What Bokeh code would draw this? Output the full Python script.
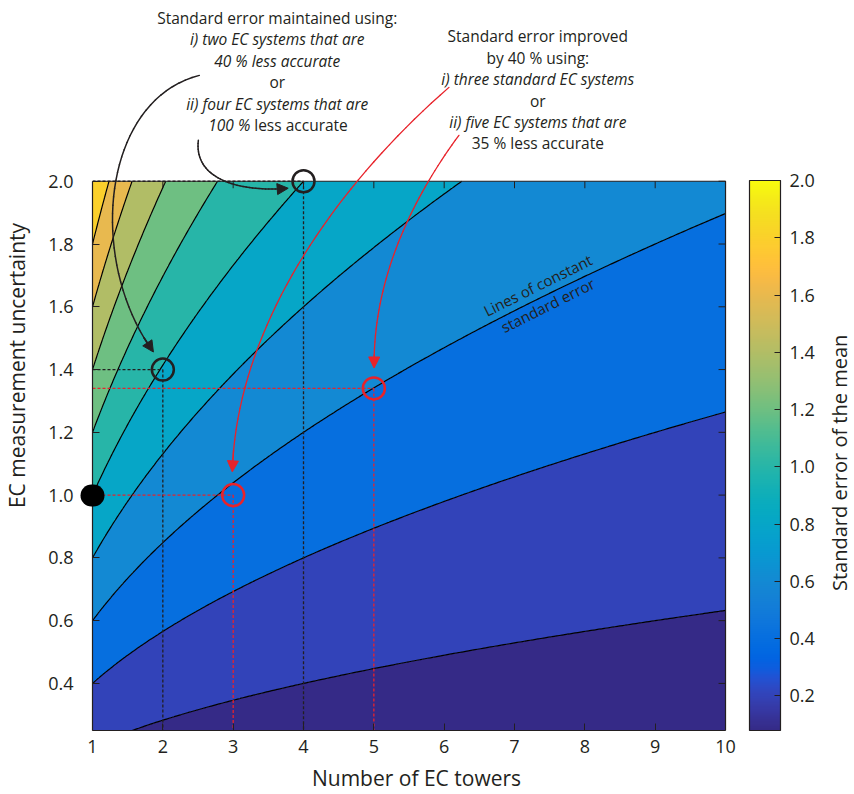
import numpy as np
from bokeh.plotting import figure
from bokeh.layouts import row
from bokeh.models import (ColumnDataSource, FixedTicker, PrintfTickFormatter,
                          ColorBar, LinearColorMapper, Label, Arrow, NormalHead, Range1d)
from bokeh.embed import file_html
from bokeh.resources import INLINE

# ---------------- data ----------------
towers = np.linspace(1, 10, 241)          # number of EC towers (x grid)
uncert = np.linspace(0.25, 2.0, 241)      # EC measurement uncertainty (y grid)
se_levels = [0.2, 0.4, 0.6, 0.8, 1.0, 1.2, 1.4, 1.6, 1.8]
x_ticks = [1, 2, 3, 4, 5, 6, 7, 8, 9, 10]
y_ticks = [0.4, 0.6, 0.8, 1.0, 1.2, 1.4, 1.6, 1.8, 2.0]
cbar_ticks = [0.2, 0.4, 0.6, 0.8, 1.0, 1.2, 1.4, 1.6, 1.8, 2.0]

ref_n, ref_sigma = [1], [1.0]              # reference: one standard EC system
maint_n, maint_sigma = [2, 4], [1.4, 2.0]  # standard error maintained
impr_n, impr_sigma = [3, 5], [1.0, 1.34]   # standard error improved by 40 %

# standard error of the mean = sigma / sqrt(n)
se = uncert[:, None] / np.sqrt(towers[None, :])
zmin, zmax = float(se.min()), float(se.max())
x_lo, x_hi, y_lo, y_hi = 1.0, 10.0, 0.25, 2.0

# ---------------- parula colormap ----------------
parula64 = [
    (0.2081, 0.1663, 0.5292), (0.2116, 0.1898, 0.5777), (0.2123, 0.2138, 0.6270), (0.2081, 0.2386, 0.6771),
    (0.1959, 0.2645, 0.7279), (0.1707, 0.2919, 0.7792), (0.1253, 0.3242, 0.8303), (0.0591, 0.3598, 0.8683),
    (0.0117, 0.3875, 0.8820), (0.0060, 0.4086, 0.8828), (0.0165, 0.4266, 0.8786), (0.0329, 0.4430, 0.8720),
    (0.0498, 0.4586, 0.8641), (0.0629, 0.4737, 0.8554), (0.0723, 0.4887, 0.8467), (0.0779, 0.5040, 0.8384),
    (0.0793, 0.5200, 0.8312), (0.0749, 0.5375, 0.8263), (0.0641, 0.5570, 0.8240), (0.0488, 0.5772, 0.8228),
    (0.0343, 0.5966, 0.8199), (0.0265, 0.6137, 0.8135), (0.0239, 0.6287, 0.8038), (0.0231, 0.6418, 0.7913),
    (0.0228, 0.6535, 0.7768), (0.0267, 0.6642, 0.7607), (0.0384, 0.6743, 0.7436), (0.0590, 0.6838, 0.7254),
    (0.0843, 0.6928, 0.7062), (0.1133, 0.7015, 0.6859), (0.1453, 0.7098, 0.6646), (0.1801, 0.7177, 0.6424),
    (0.2178, 0.7250, 0.6193), (0.2586, 0.7317, 0.5954), (0.3022, 0.7376, 0.5712), (0.3482, 0.7424, 0.5473),
    (0.3953, 0.7459, 0.5244), (0.4420, 0.7481, 0.5033), (0.4871, 0.7491, 0.4840), (0.5300, 0.7491, 0.4661),
    (0.5709, 0.7485, 0.4494), (0.6099, 0.7473, 0.4337), (0.6473, 0.7456, 0.4188), (0.6834, 0.7435, 0.4044),
    (0.7184, 0.7411, 0.3905), (0.7525, 0.7384, 0.3768), (0.7858, 0.7356, 0.3633), (0.8185, 0.7327, 0.3498),
    (0.8507, 0.7299, 0.3360), (0.8824, 0.7274, 0.3217), (0.9139, 0.7258, 0.3063), (0.9450, 0.7261, 0.2886),
    (0.9739, 0.7314, 0.2666), (0.9938, 0.7455, 0.2403), (0.9990, 0.7653, 0.2164), (0.9955, 0.7861, 0.1967),
    (0.9880, 0.8066, 0.1794), (0.9789, 0.8271, 0.1633), (0.9697, 0.8481, 0.1475), (0.9626, 0.8705, 0.1309),
    (0.9589, 0.8949, 0.1132), (0.9598, 0.9218, 0.0948), (0.9661, 0.9514, 0.0755), (0.9763, 0.9831, 0.0538)]


def cmap(f):
    f = min(max(f, 0.0), 1.0) * 63
    i = int(np.floor(f)); j = min(i + 1, 63); t = f - i
    c = [(1 - t) * parula64[i][k] + t * parula64[j][k] for k in range(3)]
    return '#%02x%02x%02x' % tuple(int(round(v * 255)) for v in c)


palette = [cmap(i / 255) for i in range(256)]
levels = [0.0] + se_levels + [zmax + 0.05]
band_colors = [cmap((max(l, zmin) - zmin) / (zmax - zmin)) for l in levels[:-1]]

# ---------------- styles / layout ----------------
FONT = "Open Sans"
INK = "#231F20"
RED = "#E8232B"

W1 = 740                               # width of the main figure
FL, FR, FT, FB = 91, 725, 181, 731     # data box in pixels
KX = (FR - FL) / (x_hi - x_lo)         # px per x unit
KY = (FB - FT) / (y_hi - y_lo)         # px per y unit
def px_x(px):
    return x_lo + (px - FL) / KX
def px_y(py):
    return y_hi - (py - FT) / KY

p = figure(width=W1, height=794,
           x_range=Range1d(x_lo, px_x(W1)), y_range=Range1d(y_lo, px_y(0)),
           output_backend="svg", toolbar_location=None,
           min_border_left=FL, min_border_right=0, min_border_top=0, min_border_bottom=794 - FB)
p.grid.visible = False
p.outline_line_color = None
p.background_fill_color = "white"
p.border_fill_color = "white"

p.contour(towers, uncert, se, levels=levels, fill_color=band_colors, line_color="black", line_width=1.2)

# axes
for ax in (p.xaxis[0], p.yaxis[0]):
    ax.major_tick_in = 7
    ax.major_tick_out = 0
    ax.minor_tick_line_color = None
    ax.axis_line_color = INK
    ax.axis_line_width = 1.2
    ax.major_tick_line_color = INK
    ax.major_label_text_font = FONT
    ax.major_label_text_font_size = "18px"
    ax.major_label_text_color = INK
    ax.axis_label_text_font = FONT
    ax.axis_label_text_font_size = "21px"
    ax.axis_label_text_font_style = "normal"
    ax.axis_label_text_color = INK
p.xaxis.ticker = FixedTicker(ticks=x_ticks)
# the reference system (one standard EC tower) sits on the y axis: drawn as a round minor tick
p.yaxis.ticker = FixedTicker(ticks=y_ticks, minor_ticks=ref_sigma)
p.yaxis.minor_tick_line_color = "black"
p.yaxis.minor_tick_line_width = 22
p.yaxis.minor_tick_line_cap = "round"
p.yaxis.minor_tick_in = 1
p.yaxis.minor_tick_out = 1
p.xaxis.bounds = (x_lo, x_hi)
p.yaxis.bounds = (y_lo, y_hi)
p.yaxis.formatter = PrintfTickFormatter(format="%.1f")
p.xaxis.axis_label = "Number of EC towers"
p.yaxis.axis_label = "EC measurement uncertainty"
p.xaxis.major_label_standoff = 9
p.yaxis.major_label_standoff = 18
p.xaxis.axis_label_standoff = 8
p.yaxis.axis_label_standoff = 14

# top and right edges of the box with inward ticks
p.line([x_lo, x_hi, x_hi], [y_hi, y_hi, y_lo], line_color=INK, line_width=1.2)
p.segment(x0=x_ticks, y0=[y_hi] * len(x_ticks), x1=x_ticks, y1=[y_hi - 7 / KY] * len(x_ticks),
          line_color=INK, line_width=1)
p.segment(x0=[x_hi] * len(y_ticks), y0=y_ticks, x1=[x_hi - 7 / KX] * len(y_ticks), y1=y_ticks,
          line_color=INK, line_width=1)

# dashed guides from the reference system to each scenario
def guides(ns, ss):
    x0, y0, x1, y1 = [], [], [], []
    for n, s in zip(ns, ss):
        x0 += [x_lo, n]; y0 += [s, s]; x1 += [n, n]; y1 += [s, y_lo]
    return ColumnDataSource(dict(x0=x0, y0=y0, x1=x1, y1=y1))

p.segment("x0", "y0", "x1", "y1", source=guides(maint_n, maint_sigma), line_color=INK,
          line_width=1.3, line_dash="3 2")
p.segment("x0", "y0", "x1", "y1", source=guides(impr_n, impr_sigma), line_color=RED,
          line_width=1.3, line_dash="3 2")

# scenario circles
p.scatter(maint_n, maint_sigma, marker="circle", size=22, fill_color=None, line_color=INK, line_width=2.5)
p.scatter(impr_n, impr_sigma, marker="circle", size=22, fill_color=None, line_color=RED, line_width=2.5)

# curved arrows (cubic Bezier control points, in pixels)
curves = [
    (INK, 1.5, [(198, 75), (100, 100), (85, 260), (152, 352)]),
    (INK, 1.5, [(197, 140), (192, 182), (245, 192), (287, 188)]),
    (RED, 1.3, [(448, 87), (330, 190), (235, 330), (231, 472)]),
    (RED, 1.3, [(458, 135), (410, 200), (372, 280), (373, 368)]),
]
for col, lw, ctrl in curves:
    t = np.linspace(0, 1, 41)[:, None]
    P = np.array(ctrl, dtype=float)
    pts = ((1 - t) ** 3) * P[0] + 3 * ((1 - t) ** 2) * t * P[1] + 3 * (1 - t) * t ** 2 * P[2] + t ** 3 * P[3]
    xs = [px_x(v) for v in pts[:, 0]]
    ys = [px_y(v) for v in pts[:, 1]]
    src = ColumnDataSource(dict(x0=xs[:-2], y0=ys[:-2], x1=xs[1:-1], y1=ys[1:-1]))
    p.add_layout(Arrow(x_start="x0", y_start="y0", x_end="x1", y_end="y1", source=src, end=None,
                       line_color=col, line_width=lw, line_cap="round"))
    p.add_layout(Arrow(x_start=xs[-3], y_start=ys[-3], x_end=xs[-1], y_end=ys[-1], line_color=col,
                       line_width=lw,
                       end=NormalHead(size=11, fill_color=col, line_color=col, line_width=1)))

# annotation texts
def txt(x, y, s, style="normal", align="center", size="15.5px", angle=0):
    p.add_layout(Label(x=px_x(x), y=px_y(y), text=s, text_align=align, text_baseline="middle",
                       text_font=FONT, text_font_size=size, text_font_style=style, text_color=INK,
                       angle=angle, angle_units="deg"))

txt(276, 18, "Standard error maintained using:")
txt(276, 39, "i) two EC systems that are", "italic")
txt(276, 60.5, "40 % less accurate", "italic")
txt(276, 82, "or")
txt(276, 103.5, "ii) four EC systems that are", "italic")
txt(249, 124.5, "100 %", "italic", align="right")
txt(253, 124.5, "less accurate", align="left")

txt(537, 36, "Standard error improved")
txt(537, 57.5, "by 40 % using:")
txt(537, 79, "i) three standard EC systems", "italic")
txt(537, 100.5, "or")
txt(537, 122, "ii) five EC systems that are", "italic")
txt(537, 143, "35 % less accurate")

txt(537, 285, "Lines of constant", size="15px", angle=26.5)
txt(547, 305, "standard error", size="15px", angle=26.5)

# ---------------- colour bar figure ----------------
W2 = 854 - W1
q = figure(width=W2, height=794, x_range=Range1d(W1, 854), y_range=Range1d(FB, 0),
           output_backend="svg", toolbar_location=None, x_axis_location=None, y_axis_location=None,
           min_border_left=0, min_border_right=0, min_border_top=0, min_border_bottom=794 - FB)
q.grid.visible = False
q.outline_line_color = None
mapper = LinearColorMapper(palette=palette, low=zmin, high=zmax)
cb = ColorBar(color_mapper=mapper, ticker=FixedTicker(ticks=cbar_ticks),
              formatter=PrintfTickFormatter(format="%.1f"), width=31, height=FB - FT,
              padding=0, margin=0, label_standoff=9, major_tick_in=6, major_tick_out=0,
              major_tick_line_color=INK, bar_line_color=INK, bar_line_width=1.2,
              minor_tick_line_color=None,
              major_label_text_font=FONT, major_label_text_font_size="18px",
              major_label_text_color=INK, border_line_color=None, background_fill_color=None,
              location=(749 - W1, 0))
q.add_layout(cb, "center")
q.add_layout(Label(x=839, y=463, text="Standard error of the mean", angle=90, angle_units="deg",
                   text_align="center", text_baseline="alphabetic", text_font=FONT,
                   text_font_size="20px", text_color=INK))

open("out.html", "w").write(file_html(row(p, q), INLINE))
